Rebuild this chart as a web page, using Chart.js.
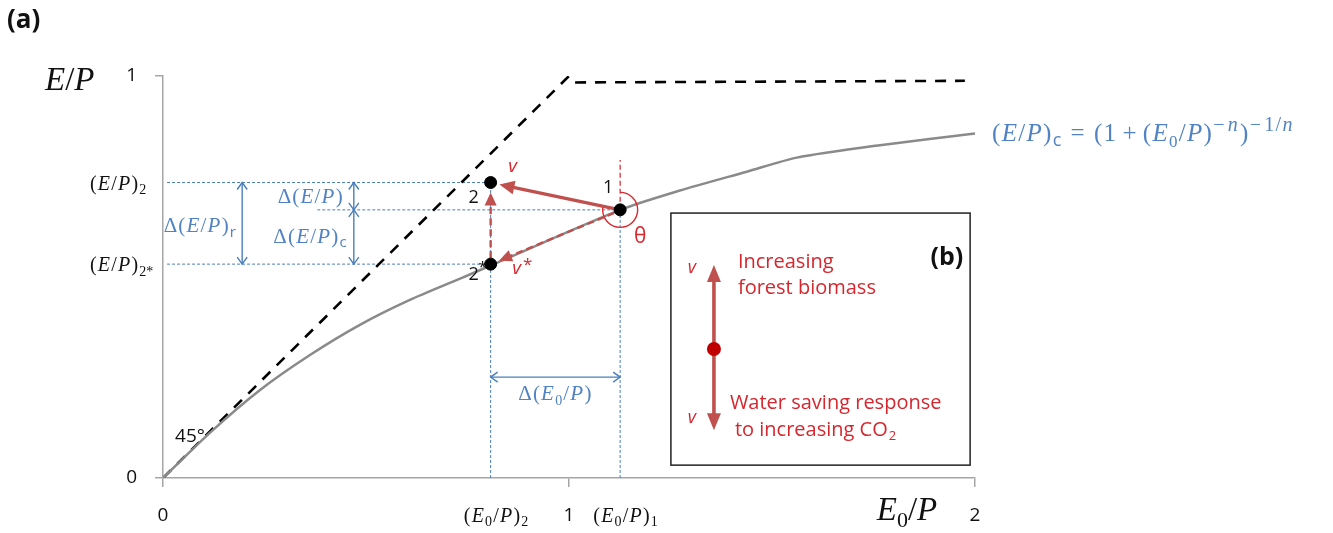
<!DOCTYPE html>
<html>
<head>
<meta charset="utf-8">
<script src="https://cdn.jsdelivr.net/npm/chart.js@4.4.1/dist/chart.umd.min.js"></script>
<style>
  html, body { margin: 0; padding: 0; background: #fff; }
</style>
</head>
<body>
<canvas id="budykoChart" width="1333" height="533"></canvas>
<script>
// curve (E/P)c
const curveX = [0, 0.116, 0.239, 0.362, 0.485, 0.608, 0.732, 0.808, 1.126, 1.273, 1.438, 1.561, 1.766, 2.0];
const curveY = [0, 0.113, 0.219, 0.306, 0.381, 0.443, 0.496, 0.529, 0.667, 0.715, 0.762, 0.797, 0.828, 0.857];

// energy / water limits (dashed)
const limitX = [0, 1];
const limitY = [0, 1];
const plateauX = [1.015, 1.975];
const plateauY = [0.984, 0.988];

// states 1, 2, 2*
const stateLabels = ["1", "2", "2*"];
const stateX = [1.126, 0.807, 0.807];
const stateY = [0.667, 0.735, 0.532];

const xTicks = [0, 1, 2];
const yTicks = [0, 1];

const BLUE = "#4a7ebb";
const BLUE_TXT = "#5183c4";
const RED = "#c0504d";
const RED_TXT = "#d4272e";
const SERIF = '"Liberation Serif", "DejaVu Serif", serif';
const SANS = '"Open Sans", "Noto Sans", sans-serif';

function pts(xs, ys) {
  return xs.map((x, i) => ({ x: x, y: ys[i] }));
}

function guide(x0, y0, x1, y1) {
  return {
    type: "line",
    data: [{ x: x0, y: y0 }, { x: x1, y: y1 }],
    borderColor: BLUE,
    borderWidth: 1,
    borderDash: [3, 2],
    pointRadius: 0
  };
}

const [x1, x2] = [stateX[0], stateX[1]];
const [y1, y2, y2s] = [stateY[0], stateY[1], stateY[2]];

function arrowHead(ctx, x0, y0, xe, ye, len, half, filled) {
  const a = Math.atan2(ye - y0, xe - x0);
  const bx = xe - len * Math.cos(a), by = ye - len * Math.sin(a);
  ctx.beginPath();
  ctx.moveTo(bx + half * Math.sin(a), by - half * Math.cos(a));
  ctx.lineTo(xe, ye);
  ctx.lineTo(bx - half * Math.sin(a), by + half * Math.cos(a));
  if (filled) { ctx.closePath(); ctx.fill(); } else { ctx.stroke(); }
}

function arrow(ctx, x0, y0, xe, ye, o) {
  const a = Math.atan2(ye - y0, xe - x0);
  const tx = xe - o.gap * Math.cos(a), ty = ye - o.gap * Math.sin(a);
  ctx.save();
  ctx.strokeStyle = o.color;
  ctx.fillStyle = o.color;
  ctx.lineWidth = o.width;
  ctx.setLineDash(o.dash || []);
  ctx.beginPath();
  ctx.moveTo(x0, y0);
  ctx.lineTo(tx - o.len * 0.7 * Math.cos(a), ty - o.len * 0.7 * Math.sin(a));
  ctx.stroke();
  ctx.setLineDash([]);
  arrowHead(ctx, x0, y0, tx, ty, o.len, o.half, true);
  ctx.restore();
}

function dblArrow(ctx, xa, ya, xb, yb) {
  ctx.save();
  ctx.strokeStyle = BLUE;
  ctx.lineWidth = 1.4;
  ctx.beginPath();
  ctx.moveTo(xa, ya);
  ctx.lineTo(xb, yb);
  ctx.stroke();
  arrowHead(ctx, xa, ya, xb, yb, 7, 5, false);
  arrowHead(ctx, xb, yb, xa, ya, 7, 5, false);
  ctx.restore();
}

// segments: [text, style]  styles: r, i, sub, sup, supi, csub, gap (text = pixels)
function rich(ctx, segs, x, y, size, color, align, pad) {
  pad = pad === undefined ? 1.2 : pad;
  const small = Math.round(size * 0.68);
  const sups = Math.round(size * 0.8);
  const st = {
    r: [size + "px " + SERIF, 0],
    i: ["italic " + size + "px " + SERIF, 0],
    sub: [small + "px " + SERIF, size * 0.22],
    sup: [sups + "px " + SERIF, -size * 0.42],
    supi: ["italic " + sups + "px " + SERIF, -size * 0.42],
    csub: [Math.round(size * 0.7) + "px " + SANS, size * 0.2]
  };
  let w = 0;
  const widths = segs.map(s => {
    if (s[1] === "gap") { w += s[0]; return s[0]; }
    ctx.font = st[s[1]][0];
    const m = ctx.measureText(s[0]).width + pad;
    w += m;
    return m;
  });
  let cx = align === "center" ? x - w / 2 : align === "right" ? x - w : x;
  ctx.save();
  ctx.fillStyle = color;
  ctx.textAlign = "left";
  ctx.textBaseline = "alphabetic";
  segs.forEach((s, k) => {
    if (s[1] !== "gap") {
      ctx.font = st[s[1]][0];
      ctx.fillText(s[0], cx, y + st[s[1]][1]);
    }
    cx += widths[k];
  });
  ctx.restore();
}

function text(ctx, str, x, y, font, color, align) {
  ctx.save();
  ctx.font = font;
  ctx.fillStyle = color;
  ctx.textAlign = align || "left";
  ctx.textBaseline = "middle";
  ctx.fillText(str, x, y);
  ctx.restore();
}

const EP = [["(", "r"], ["E", "i"], ["/", "r"], ["P", "i"], [")", "r"]];
const E0P = [["(", "r"], ["E", "i"], ["0", "sub"], ["/", "r"], ["P", "i"], [")", "r"]];

const sketch = {
  id: "sketch",
  beforeDatasetDraw(chart, args) {
    if (args.index !== 0) return;
    const ctx = chart.ctx;
    const sx = chart.scales.x, sy = chart.scales.y;
    const p1 = [sx.getPixelForValue(x1), sy.getPixelForValue(y1)];
    const p2 = [sx.getPixelForValue(x2), sy.getPixelForValue(y2)];
    const p2s = [sx.getPixelForValue(x2), sy.getPixelForValue(y2s)];

    // red dashed vertical reference through state 1
    ctx.save();
    ctx.strokeStyle = "#e0343c";
    ctx.lineWidth = 1.3;
    ctx.setLineDash([5, 3]);
    ctx.beginPath();
    ctx.moveTo(p1[0], p1[1]);
    ctx.lineTo(p1[0], sy.getPixelForValue(0.791));
    ctx.stroke();
    ctx.restore();

    // angle theta
    const va = Math.atan2(p2[1] - p1[1], p2[0] - p1[0]);
    ctx.save();
    ctx.strokeStyle = "#d9282f";
    ctx.lineWidth = 1.4;
    ctx.beginPath();
    ctx.arc(p1[0], p1[1], 17.5, -Math.PI / 2, va + 2 * Math.PI + 0.05, false);
    ctx.stroke();
    ctx.restore();

    arrow(ctx, p1[0] - 6, p1[1] + 3, p2s[0], p2s[1], { color: RED, width: 2.4, dash: [7, 4], gap: 9, len: 13, half: 6 });
    arrow(ctx, p2s[0], p2s[1] - 6, p2[0], p2[1], { color: RED, width: 2.4, dash: [7, 4], gap: 10, len: 13, half: 6 });
    arrow(ctx, p1[0], p1[1], p2[0], p2[1], { color: RED, width: 3.4, gap: 9, len: 15, half: 7 });
  },
  afterDraw(chart) {
    const ctx = chart.ctx;
    const sx = chart.scales.x, sy = chart.scales.y;
    const X = v => sx.getPixelForValue(v), Y = v => sy.getPixelForValue(v);
    const L = chart.chartArea.left, B = chart.chartArea.bottom;

    text(ctx, "(a)", 7, 21, "bold 26px " + SANS, "#111", "left");

    // axis titles
    rich(ctx, [["E", "i"], ["/", "r"], ["P", "i"]], 45, 90, 33, "#111", "left", 0);
    rich(ctx, [["E", "i"], ["0", "sub"], ["/", "r"], ["P", "i"]], 907, 520, 33, "#111", "center", 0);

    // state labels on the axes
    rich(ctx, EP.concat([["2", "sub"]]), L - 73, Y(y2) + 7, 20, "#111", "left");
    rich(ctx, EP.concat([["2*", "sub"]]), L - 73, Y(y2s) + 7, 20, "#111", "left");
    rich(ctx, E0P.concat([["2", "sub"]]), X(x2) + 6, 522, 20, "#111", "center");
    rich(ctx, E0P.concat([["1", "sub"]]), X(x1) + 6, 522, 20, "#111", "center");

    // blue difference arrows
    const xr = X(0.195), xc = X(0.47), ya = Y(0.251);
    dblArrow(ctx, xr, Y(y2), xr, Y(y2s));
    dblArrow(ctx, xc, Y(y2), xc, Y(y1));
    dblArrow(ctx, xc, Y(y1), xc, Y(y2s));
    dblArrow(ctx, X(x2), ya, X(x1), ya);
    rich(ctx, [["Δ", "r"]].concat(EP, [["r", "csub"]]), xr - 5, (Y(y2) + Y(y2s)) / 2 + 9, 21, BLUE_TXT, "right");
    rich(ctx, [["Δ", "r"]].concat(EP), xc - 10, (Y(y2) + Y(y1)) / 2 + 7, 21, BLUE_TXT, "right");
    rich(ctx, [["Δ", "r"]].concat(EP, [["c", "csub"]]), xc - 6, (Y(y1) + Y(y2s)) / 2 + 6, 21, BLUE_TXT, "right");
    rich(ctx, [["Δ", "r"]].concat(E0P), (X(x2) + X(x1)) / 2, ya + 23, 21, BLUE_TXT, "center");

    // curve equation
    rich(ctx, EP.concat(
      [["c", "csub"], [8, "gap"], ["=", "r"], [8, "gap"], ["(", "r"], ["1", "r"], [5, "gap"], ["+", "r"], [5, "gap"]],
      E0P,
      [["−", "sup"], [2, "gap"], ["n", "supi"], [1, "gap"], [")", "r"], ["−", "sup"], [2, "gap"], ["1", "sup"], ["/", "sup"], ["n", "supi"]]),
      992, 141, 25, BLUE_TXT, "left", 1.3);

    // point labels
    const f18 = "18px " + SANS;
    text(ctx, stateLabels[0], X(x1) - 12, Y(y1) - 22, f18, "#111", "center");
    text(ctx, stateLabels[1], X(x2) - 17, Y(y2) + 15, f18, "#111", "center");
    text(ctx, stateLabels[2].charAt(0), X(x2) - 17, Y(y2s) + 11, f18, "#111", "center");
    text(ctx, "*", X(x2) - 8, Y(y2s) + 4, "15px " + SANS, "#111", "center");
    text(ctx, "v", X(x2) + 22, Y(y2) - 16, "italic 19px " + SANS, RED_TXT, "center");
    text(ctx, "v", X(x2) + 26, Y(y2s) + 4, "italic 19px " + SANS, RED_TXT, "center");
    text(ctx, "*", X(x2) + 37, Y(y2s) + 1, "17px " + SANS, RED_TXT, "center");
    text(ctx, "θ", X(x1) + 20, Y(y1) + 27, "21px " + SANS, RED_TXT, "center");
    text(ctx, "45°", L + 27, B - 41, "19px " + SANS, "#111", "center");

    // inset (b)
    const bl = X(1.251), br = X(1.988), bt = Y(0.659), bb = Y(0.032);
    ctx.save();
    ctx.strokeStyle = "#222";
    ctx.lineWidth = 1.5;
    ctx.strokeRect(bl, bt, br - bl, bb - bt);
    ctx.restore();
    const dx = X(1.357), dy = Y(0.321);
    arrow(ctx, dx, dy, dx, Y(0.53), { color: RED, width: 3.6, gap: 0, len: 17, half: 7 });
    arrow(ctx, dx, dy, dx, Y(0.119), { color: RED, width: 3.6, gap: 0, len: 17, half: 7 });
    ctx.save();
    ctx.fillStyle = "#c00000";
    ctx.beginPath();
    ctx.arc(dx, dy, 7, 0, 2 * Math.PI);
    ctx.fill();
    ctx.restore();
    text(ctx, "(b)", bl + 276, bt + 45, "bold 25px " + SANS, "#111", "center");
    const f20 = "20px " + SANS;
    text(ctx, "v", bl + 21, bt + 55, "italic 18px " + SANS, RED_TXT, "center");
    text(ctx, "v", bl + 21, bt + 205, "italic 18px " + SANS, RED_TXT, "center");
    text(ctx, "Increasing", bl + 67, bt + 49, f20, RED_TXT, "left");
    text(ctx, "forest biomass", bl + 67, bt + 75, f20, RED_TXT, "left");
    text(ctx, "Water saving response", bl + 59, bt + 190, f20, RED_TXT, "left");
    ctx.save();
    ctx.font = f20;
    const w = ctx.measureText("to increasing CO").width;
    ctx.restore();
    text(ctx, "to increasing CO", bl + 64, bt + 217, f20, RED_TXT, "left");
    text(ctx, "2", bl + 64 + w + 1, bt + 223, "13px " + SANS, RED_TXT, "left");
  }
};

Chart.defaults.font.family = SANS;

const ctx = document.getElementById("budykoChart").getContext("2d");
const chart = new Chart(ctx, {
  type: "scatter",
  data: {
    datasets: [
      {
        label: "states",
        data: pts(stateX, stateY),
        pointRadius: 6,
        pointBackgroundColor: "#000",
        pointBorderColor: "#000",
        showLine: false
      },
      {
        label: "(E/P)c",
        type: "line",
        data: pts(curveX, curveY),
        borderColor: "#8a8a8a",
        borderWidth: 2.5,
        tension: 0.25,
        pointRadius: 0
      },
      {
        label: "energy limit",
        type: "line",
        data: pts(limitX, limitY),
        borderColor: "#000",
        borderWidth: 2.6,
        borderDash: [11, 9],
        pointRadius: 0
      },
      {
        label: "water limit",
        type: "line",
        data: pts(plateauX, plateauY),
        borderColor: "#000",
        borderWidth: 2.6,
        borderDash: [11, 9],
        pointRadius: 0
      },
      guide(0.01, y2, x2, y2),
      guide(0.01, y2s, x2, y2s),
      guide(0.38, y1, x1, y1),
      guide(x2, 0, x2, y2),
      guide(x1, 0, x1, y1)
    ]
  },
  options: {
    responsive: false,
    devicePixelRatio: 1,
    animation: false,
    layout: { padding: { left: 0, right: 358, top: 76, bottom: 0 } },
    plugins: { legend: { display: false }, tooltip: { enabled: false } },
    scales: {
      x: {
        type: "linear",
        min: 0,
        max: 2,
        afterBuildTicks: s => { s.ticks = xTicks.map(v => ({ value: v })); },
        afterFit: s => { s.height = 55; },
        ticks: { color: "#111", font: { size: 19 }, padding: 17, callback: v => String(v) },
        grid: { drawOnChartArea: false, tickLength: 9, color: "#a6a6a6", lineWidth: 1.5 },
        border: { color: "#a6a6a6", width: 1.5 }
      },
      y: {
        type: "linear",
        min: 0,
        max: 1,
        afterBuildTicks: s => { s.ticks = yTicks.map(v => ({ value: v })); },
        afterFit: s => { s.width = 163; },
        ticks: { color: "#111", font: { size: 19 }, padding: 18, callback: v => String(v) },
        grid: { drawOnChartArea: false, tickLength: 8, color: "#a6a6a6", lineWidth: 1.5 },
        border: { color: "#a6a6a6", width: 1.5 }
      }
    }
  },
  plugins: [sketch]
});
</script>
</body>
</html>
